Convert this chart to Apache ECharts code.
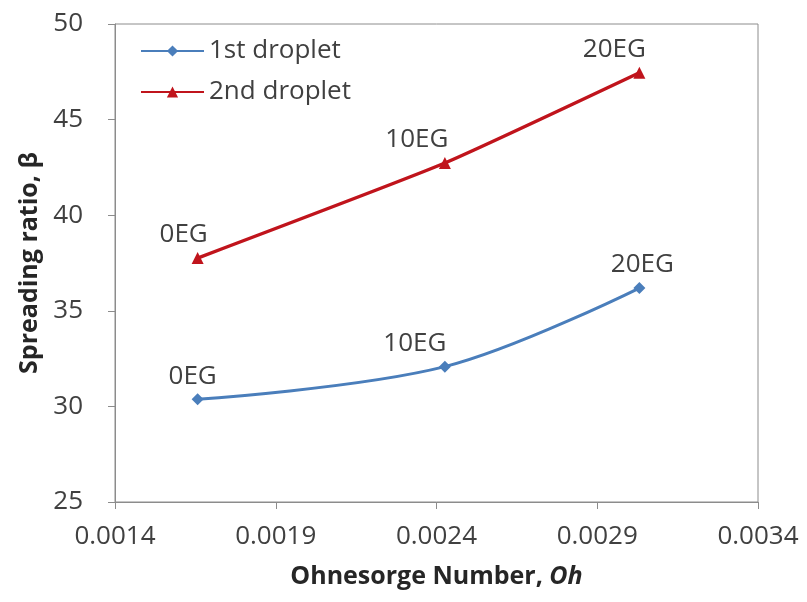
<!DOCTYPE html>
<html>
<head>
<meta charset="utf-8">
<script src="https://cdn.jsdelivr.net/npm/echarts@6/dist/echarts.min.js"></script>
<style>html,body{margin:0;padding:0;background:#fff;}#c{width:807px;height:602px;}</style>
</head>
<body>
<div id="c"></div>
<script>
const ohValues = [0.001657, 0.002426, 0.003031];
const pointLabels = ['0EG', '10EG', '20EG'];
const firstDroplet = [30.37, 32.08, 36.19];
const secondDroplet = [37.76, 42.73, 47.45];
const seriesNames = ['1st droplet', '2nd droplet'];

const chart = echarts.init(document.getElementById('c'));
const font = '"Open Sans", Lato, sans-serif';
const txt = '#404040';

function build(values, offsets) {
  return values.map((v, i) => ({
    value: [ohValues[i], v],
    label: { offset: offsets[i] }
  }));
}

chart.setOption({
  animation: false,
  backgroundColor: '#fff',
  grid: { left: 115, right: 49, top: 24, bottom: 100, show: true, borderColor: '#8c8c8c', borderWidth: 1 },
  legend: {
    left: 135, top: 33, orient: 'vertical', itemGap: 15,
    itemWidth: 63, itemHeight: 14,
    textStyle: { fontFamily: font, fontSize: 26, color: txt },
    data: seriesNames
  },
  xAxis: {
    type: 'value', min: 0.0014, max: 0.0034, interval: 0.0005,
    axisLine: { lineStyle: { color: '#8c8c8c' } },
    axisTick: { show: true, length: 7, lineStyle: { color: '#8c8c8c' } },
    splitLine: { show: false },
    axisLabel: { fontFamily: font, fontSize: 26, color: txt, margin: 22, formatter: v => v.toFixed(4) },
    name: '{b|Ohnesorge Number, }{i|Oh}',
    nameLocation: 'middle', nameGap: 62,
    nameTextStyle: {
      rich: {
        b: { fontFamily: font, fontSize: 25, fontWeight: 'bold', color: '#262626' },
        i: { fontFamily: font, fontSize: 25, fontWeight: 'bold', fontStyle: 'italic', color: '#262626' }
      }
    }
  },
  yAxis: {
    type: 'value', min: 25, max: 50, interval: 5,
    axisLine: { show: true, lineStyle: { color: '#8c8c8c' } },
    axisTick: { show: true, length: 7, lineStyle: { color: '#8c8c8c' } },
    splitLine: { show: false },
    axisLabel: { fontFamily: font, fontSize: 26, color: txt, margin: 32 },
    name: 'Spreading ratio, β',
    nameLocation: 'middle', nameGap: 70,
    nameTextStyle: { fontFamily: font, fontSize: 25, fontWeight: 'bold', color: '#262626' }
  },
  series: [
    {
      name: seriesNames[0], type: 'line', smooth: 0.35,
      data: build(firstDroplet, [[-5, 0], [-30, 0], [3, 0]]),
      symbol: 'diamond', symbolSize: 12,
      lineStyle: { color: '#4A7EBB', width: 3 },
      itemStyle: { color: '#4A7EBB' },
      label: { show: true, position: 'top', distance: 4, fontFamily: font, fontSize: 26, color: txt,
        formatter: p => pointLabels[p.dataIndex] }
    },
    {
      name: seriesNames[1], type: 'line', smooth: 0.15,
      data: build(secondDroplet, [[-14, 0], [-28, 0], [-25, 0]]),
      symbol: 'triangle', symbolSize: 12,
      lineStyle: { color: '#C0141C', width: 3.5 },
      itemStyle: { color: '#C0141C' },
      label: { show: true, position: 'top', distance: 4, fontFamily: font, fontSize: 26, color: txt,
        formatter: p => pointLabels[p.dataIndex] }
    }
  ]
});
</script>
</body>
</html>
